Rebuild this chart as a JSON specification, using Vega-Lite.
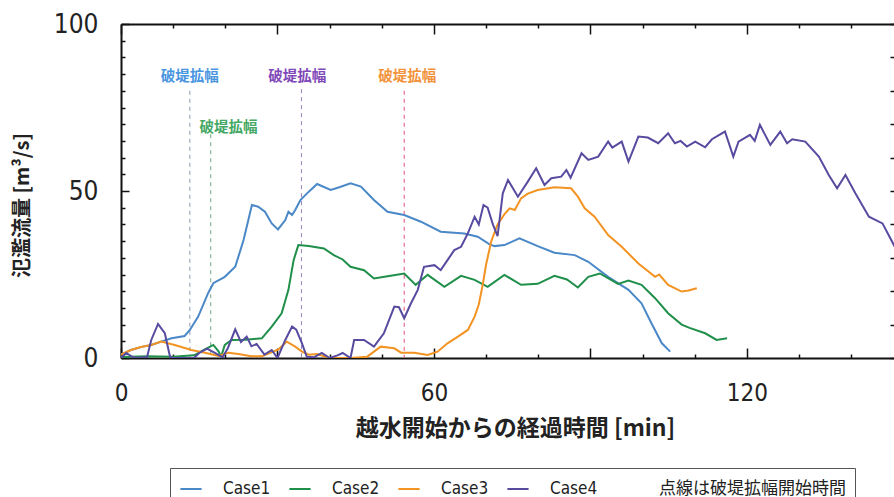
{
  "$schema": "https://vega.github.io/schema/vega-lite/v6.json",
  "width": 774,
  "height": 334,
  "autosize": {"type": "none"},
  "padding": {"left": 121, "top": 24, "right": 0, "bottom": 139},
  "background": "white",
  "config": {"view": {"stroke": null}},
  "datasets": {
    "flow": [
      {"case":"Case1","t":0,"q":1},{"case":"Case1","t":1.9,"q":2.4},{"case":"Case1","t":4.2,"q":3.4},{"case":"Case1","t":5.8,"q":3.9},{"case":"Case1","t":7.7,"q":4.9},{"case":"Case1","t":9.7,"q":5.9},{"case":"Case1","t":12.2,"q":6.6},{"case":"Case1","t":13.2,"q":8.4},{"case":"Case1","t":14.8,"q":12.4},{"case":"Case1","t":16.7,"q":19.4},{"case":"Case1","t":17.7,"q":22.4},{"case":"Case1","t":19.9,"q":24.3},{"case":"Case1","t":21.9,"q":27.3},{"case":"Case1","t":23.5,"q":35.3},{"case":"Case1","t":25.1,"q":45.8},{"case":"Case1","t":26.3,"q":45.3},{"case":"Case1","t":27.6,"q":43.8},{"case":"Case1","t":28.9,"q":40.3},{"case":"Case1","t":30.1,"q":38.5},{"case":"Case1","t":31.5,"q":41.3},{"case":"Case1","t":32.1,"q":43.8},{"case":"Case1","t":32.8,"q":42.8},{"case":"Case1","t":33.4,"q":44.3},{"case":"Case1","t":34.4,"q":47.3},{"case":"Case1","t":36,"q":49.8},{"case":"Case1","t":37.6,"q":52.1},{"case":"Case1","t":40.2,"q":50.3},{"case":"Case1","t":42,"q":51.2},{"case":"Case1","t":44,"q":52.3},{"case":"Case1","t":46,"q":51.3},{"case":"Case1","t":48.5,"q":47.3},{"case":"Case1","t":51.1,"q":43.8},{"case":"Case1","t":54.3,"q":42.8},{"case":"Case1","t":57.5,"q":40.8},{"case":"Case1","t":61.3,"q":37.8},{"case":"Case1","t":65.8,"q":37.3},{"case":"Case1","t":68.4,"q":36.3},{"case":"Case1","t":70.6,"q":34.1},{"case":"Case1","t":71.6,"q":33.5},{"case":"Case1","t":73.5,"q":33.8},{"case":"Case1","t":76.4,"q":35.8},{"case":"Case1","t":79.9,"q":33.5},{"case":"Case1","t":83.1,"q":31.5},{"case":"Case1","t":87,"q":30.8},{"case":"Case1","t":89.6,"q":28.8},{"case":"Case1","t":93.4,"q":24.3},{"case":"Case1","t":97.3,"q":20.4},{"case":"Case1","t":99.8,"q":16.4},{"case":"Case1","t":101.7,"q":10.4},{"case":"Case1","t":103.7,"q":4.4},{"case":"Case1","t":105.3,"q":1.9},
      {"case":"Case2","t":0,"q":0.3},{"case":"Case2","t":5,"q":0.5},{"case":"Case2","t":10,"q":0.4},{"case":"Case2","t":14,"q":0.8},{"case":"Case2","t":16,"q":2.5},{"case":"Case2","t":17.7,"q":3.9},{"case":"Case2","t":18.7,"q":2},{"case":"Case2","t":19.2,"q":0.4},{"case":"Case2","t":19.9,"q":3.9},{"case":"Case2","t":21.2,"q":5.4},{"case":"Case2","t":24,"q":5.5},{"case":"Case2","t":27,"q":5.9},{"case":"Case2","t":28.9,"q":9.4},{"case":"Case2","t":30.8,"q":13.4},{"case":"Case2","t":32.1,"q":20.4},{"case":"Case2","t":33.1,"q":29.3},{"case":"Case2","t":34,"q":33.8},{"case":"Case2","t":36,"q":33.5},{"case":"Case2","t":38.9,"q":32.8},{"case":"Case2","t":40.8,"q":30.8},{"case":"Case2","t":42.5,"q":29.5},{"case":"Case2","t":44,"q":27.3},{"case":"Case2","t":46.6,"q":26.3},{"case":"Case2","t":48.5,"q":23.8},{"case":"Case2","t":51.7,"q":24.6},{"case":"Case2","t":54.3,"q":25.3},{"case":"Case2","t":56.5,"q":21.9},{"case":"Case2","t":58.8,"q":24.9},{"case":"Case2","t":62,"q":21.3},{"case":"Case2","t":65.2,"q":24.6},{"case":"Case2","t":67.8,"q":23.4},{"case":"Case2","t":70.3,"q":21.3},{"case":"Case2","t":73.5,"q":24.9},{"case":"Case2","t":76.7,"q":21.9},{"case":"Case2","t":79.9,"q":22.2},{"case":"Case2","t":83.1,"q":24.6},{"case":"Case2","t":85.5,"q":23.5},{"case":"Case2","t":87.6,"q":21.1},{"case":"Case2","t":89.6,"q":24.3},{"case":"Case2","t":91.8,"q":25.3},{"case":"Case2","t":95.3,"q":22.2},{"case":"Case2","t":97.3,"q":23.2},{"case":"Case2","t":99.8,"q":21.9},{"case":"Case2","t":102.4,"q":17.9},{"case":"Case2","t":104.9,"q":13.4},{"case":"Case2","t":107.5,"q":10},{"case":"Case2","t":109,"q":9},{"case":"Case2","t":112,"q":7.4},{"case":"Case2","t":114.2,"q":5.4},{"case":"Case2","t":116.2,"q":5.9},
      {"case":"Case3","t":0,"q":1},{"case":"Case3","t":1.9,"q":2.4},{"case":"Case3","t":3.8,"q":3.3},{"case":"Case3","t":5.8,"q":3.9},{"case":"Case3","t":7.7,"q":4.9},{"case":"Case3","t":10.3,"q":3.9},{"case":"Case3","t":13.5,"q":2.4},{"case":"Case3","t":16.1,"q":1.6},{"case":"Case3","t":18.7,"q":0.6},{"case":"Case3","t":20.6,"q":1.6},{"case":"Case3","t":22.5,"q":1.2},{"case":"Case3","t":25,"q":0.5},{"case":"Case3","t":27,"q":0.5},{"case":"Case3","t":30.2,"q":2.6},{"case":"Case3","t":31.8,"q":4.9},{"case":"Case3","t":33.4,"q":3.4},{"case":"Case3","t":34.7,"q":1.9},{"case":"Case3","t":36,"q":1},{"case":"Case3","t":37.6,"q":1.2},{"case":"Case3","t":40,"q":0},{"case":"Case3","t":44,"q":0},{"case":"Case3","t":47.2,"q":0.4},{"case":"Case3","t":49.8,"q":3.4},{"case":"Case3","t":52.4,"q":2.9},{"case":"Case3","t":53.7,"q":1.6},{"case":"Case3","t":56.2,"q":1.6},{"case":"Case3","t":58.8,"q":0.9},{"case":"Case3","t":60.7,"q":1.9},{"case":"Case3","t":62.6,"q":4.4},{"case":"Case3","t":64.6,"q":6.4},{"case":"Case3","t":66.5,"q":8.4},{"case":"Case3","t":67.8,"q":12.4},{"case":"Case3","t":68.6,"q":16},{"case":"Case3","t":69.4,"q":22.3},{"case":"Case3","t":70,"q":28},{"case":"Case3","t":71,"q":35},{"case":"Case3","t":72.2,"q":40},{"case":"Case3","t":73.5,"q":43},{"case":"Case3","t":74.5,"q":44.8},{"case":"Case3","t":75.5,"q":44.3},{"case":"Case3","t":76.7,"q":47.8},{"case":"Case3","t":78,"q":49.2},{"case":"Case3","t":79.9,"q":50.3},{"case":"Case3","t":83.1,"q":51.1},{"case":"Case3","t":86.3,"q":50.8},{"case":"Case3","t":87.6,"q":48.3},{"case":"Case3","t":88.9,"q":44.8},{"case":"Case3","t":90.8,"q":42.3},{"case":"Case3","t":93.4,"q":36.8},{"case":"Case3","t":96,"q":33.3},{"case":"Case3","t":99.2,"q":28.3},{"case":"Case3","t":102.4,"q":24.3},{"case":"Case3","t":103.2,"q":25},{"case":"Case3","t":104.9,"q":21.9},{"case":"Case3","t":107.5,"q":19.9},{"case":"Case3","t":108.8,"q":20.2},{"case":"Case3","t":110.4,"q":20.9},
      {"case":"Case4","t":0,"q":0},{"case":"Case4","t":1,"q":1.5},{"case":"Case4","t":2,"q":0.5},{"case":"Case4","t":3,"q":0},{"case":"Case4","t":5,"q":0.3},{"case":"Case4","t":5.8,"q":5.4},{"case":"Case4","t":7.1,"q":10.2},{"case":"Case4","t":8.4,"q":7.4},{"case":"Case4","t":9.4,"q":0.4},{"case":"Case4","t":10,"q":0},{"case":"Case4","t":14,"q":0},{"case":"Case4","t":15,"q":1.5},{"case":"Case4","t":16.5,"q":2.8},{"case":"Case4","t":18,"q":1.5},{"case":"Case4","t":19.5,"q":0.2},{"case":"Case4","t":20.5,"q":3},{"case":"Case4","t":21.9,"q":8.6},{"case":"Case4","t":23,"q":4.8},{"case":"Case4","t":24.1,"q":6.4},{"case":"Case4","t":25,"q":3.5},{"case":"Case4","t":26,"q":4.2},{"case":"Case4","t":27.5,"q":1},{"case":"Case4","t":28.9,"q":2.4},{"case":"Case4","t":30,"q":0},{"case":"Case4","t":31.5,"q":5.4},{"case":"Case4","t":32.8,"q":9.4},{"case":"Case4","t":33.6,"q":8.5},{"case":"Case4","t":34.7,"q":4.4},{"case":"Case4","t":35.6,"q":0.4},{"case":"Case4","t":37,"q":0.2},{"case":"Case4","t":38.5,"q":1.5},{"case":"Case4","t":40,"q":0},{"case":"Case4","t":41.5,"q":0.8},{"case":"Case4","t":42.5,"q":1.5},{"case":"Case4","t":44,"q":0},{"case":"Case4","t":44.7,"q":5.4},{"case":"Case4","t":46.6,"q":5.4},{"case":"Case4","t":48.5,"q":3.4},{"case":"Case4","t":50.4,"q":7.4},{"case":"Case4","t":52.4,"q":15.4},{"case":"Case4","t":53.3,"q":15.2},{"case":"Case4","t":54.3,"q":11.9},{"case":"Case4","t":55.6,"q":16.4},{"case":"Case4","t":56.9,"q":20.4},{"case":"Case4","t":58.1,"q":27.3},{"case":"Case4","t":60.1,"q":27.8},{"case":"Case4","t":61.3,"q":26.3},{"case":"Case4","t":62.6,"q":29.3},{"case":"Case4","t":63.9,"q":32.3},{"case":"Case4","t":65.2,"q":33.3},{"case":"Case4","t":66.5,"q":37.3},{"case":"Case4","t":67.8,"q":42.3},{"case":"Case4","t":68.6,"q":40},{"case":"Case4","t":69.5,"q":45.8},{"case":"Case4","t":70.3,"q":45},{"case":"Case4","t":71.3,"q":40},{"case":"Case4","t":72.2,"q":36.5},{"case":"Case4","t":73.2,"q":49.3},{"case":"Case4","t":74.2,"q":53.3},{"case":"Case4","t":76.1,"q":48.3},{"case":"Case4","t":78,"q":52.8},{"case":"Case4","t":79.6,"q":56.8},{"case":"Case4","t":81.2,"q":51.8},{"case":"Case4","t":82.5,"q":53.8},{"case":"Case4","t":84.4,"q":54.3},{"case":"Case4","t":85.4,"q":56.3},{"case":"Case4","t":86.2,"q":54},{"case":"Case4","t":88.3,"q":61.3},{"case":"Case4","t":89.6,"q":59.3},{"case":"Case4","t":91.5,"q":60.3},{"case":"Case4","t":93.4,"q":64.8},{"case":"Case4","t":94.2,"q":63},{"case":"Case4","t":96,"q":64.8},{"case":"Case4","t":97.3,"q":58.8},{"case":"Case4","t":99.2,"q":66.3},{"case":"Case4","t":101,"q":66},{"case":"Case4","t":103,"q":64.3},{"case":"Case4","t":104.9,"q":67.3},{"case":"Case4","t":106.2,"q":64.3},{"case":"Case4","t":107.3,"q":65},{"case":"Case4","t":108.5,"q":63.3},{"case":"Case4","t":110.1,"q":64.8},{"case":"Case4","t":112,"q":63.1},{"case":"Case4","t":113.3,"q":65.5},{"case":"Case4","t":115.8,"q":67.8},{"case":"Case4","t":117.4,"q":60.3},{"case":"Case4","t":118.4,"q":64.8},{"case":"Case4","t":120.6,"q":66.8},{"case":"Case4","t":121.5,"q":65},{"case":"Case4","t":122.5,"q":69.8},{"case":"Case4","t":124.5,"q":63.8},{"case":"Case4","t":126.4,"q":67.8},{"case":"Case4","t":127.7,"q":64.3},{"case":"Case4","t":128.7,"q":65.5},{"case":"Case4","t":131.2,"q":64.8},{"case":"Case4","t":133.8,"q":60.3},{"case":"Case4","t":135.7,"q":54.8},{"case":"Case4","t":137.3,"q":50.8},{"case":"Case4","t":138.9,"q":54.8},{"case":"Case4","t":140.8,"q":49.3},{"case":"Case4","t":143.4,"q":42.3},{"case":"Case4","t":146,"q":40.3},{"case":"Case4","t":148.7,"q":32.3}
    ],
    "notes": [
      {"case":"Case1","t":13.2,"top":80,"tl":13.2,"yl":84,"label":"破堤拡幅"},
      {"case":"Case2","t":17.2,"top":67,"tl":20.6,"yl":69,"label":"破堤拡幅"},
      {"case":"Case3","t":54.3,"top":80,"tl":54.9,"yl":84,"label":"破堤拡幅"},
      {"case":"Case4","t":34.6,"top":80.5,"tl":33.8,"yl":84,"label":"破堤拡幅"}
    ]
  },
  "layer": [
    {
      "data": {"name": "notes"},
      "mark": {"type": "rule", "strokeDash": [4, 4], "strokeWidth": 1},
      "encoding": {
        "x": {"field": "t", "type": "quantitative", "scale": {"domain": [0, 148.4], "nice": false, "zero": false}, "axis": null},
        "y": {"field": "top", "type": "quantitative", "scale": {"domain": [0, 100], "nice": false}, "axis": null},
        "y2": {"datum": 0},
        "color": {"field": "case", "type": "nominal", "scale": {"domain": ["Case1","Case2","Case3","Case4"], "range": ["#8a97b2","#6aaa80","#e84f78","#9a82b8"]}, "legend": null}
      }
    },
    {
      "data": {"name": "notes"},
      "mark": {"type": "text", "font": "Noto Sans CJK JP", "fontSize": 14.5, "fontWeight": "bold", "baseline": "middle", "align": "center"},
      "encoding": {
        "x": {"field": "tl", "type": "quantitative", "scale": {"domain": [0, 148.4], "nice": false, "zero": false}, "axis": null},
        "y": {"field": "yl", "type": "quantitative", "scale": {"domain": [0, 100], "nice": false}, "axis": null},
        "text": {"field": "label"},
        "color": {"field": "case", "type": "nominal", "scale": {"domain": ["Case1","Case2","Case3","Case4"], "range": ["#4a95e0","#45a865","#f2923a","#8048b8"]}, "legend": null}
      }
    },
    {
      "data": {"name": "flow"},
      "mark": {"type": "line", "strokeWidth": 2, "clip": true},
      "encoding": {
        "x": {"field": "t", "type": "quantitative", "scale": {"domain": [0, 148.4], "nice": false, "zero": false},
          "axis": {"orient": "bottom", "values": [0,10,20,30,40,50,60,70,80,90,100,110,120,130,140],
            "labelExpr": "datum.value % 60 === 0 ? datum.label : ''",
            "tickSize": {"condition": {"test": "datum.value % 30 === 0", "value": -10}, "value": -4},
            "tickColor": "#111", "tickWidth": 1.5, "domainColor": "#111", "domainWidth": 2, "grid": false,
            "labelFont": "Liberation Sans Narrow, DejaVu Sans Condensed, Liberation Sans", "labelFontSize": 24, "labelColor": "#222",
            "labelPadding": 33, "labelFlush": false, "labelOverlap": false, "labelBaseline": "top",
            "title": "越水開始からの経過時間 [min]", "titleFont": "Noto Sans CJK JP", "titleFontSize": 23, "titleFontWeight": "bold", "titleColor": "#222",
            "titleX": 394, "titleY": 70, "titleAlign": "center", "titleBaseline": "middle"}},
        "y": {"field": "q", "type": "quantitative", "scale": {"domain": [0, 100], "nice": false},
          "axis": {"orient": "left", "values": [0,5,10,15,20,25,30,35,40,45,50,55,60,65,70,75,80,85,90,95,100],
            "labelExpr": "datum.value % 50 === 0 ? datum.label : ''",
            "tickSize": {"condition": {"test": "datum.value % 50 === 0", "value": -8}, "value": -4},
            "tickColor": "#111", "tickWidth": 1.5, "domainColor": "#111", "domainWidth": 2, "grid": false,
            "labelFont": "Liberation Sans Narrow, DejaVu Sans Condensed, Liberation Sans", "labelFontSize": 26, "labelColor": "#222",
            "labelPadding": 31, "labelFlush": false, "labelOverlap": false, "labelBaseline": "middle",
            "title": "氾濫流量 [m³/s]", "titleFont": "Noto Sans CJK JP", "titleFontSize": 20, "titleFontWeight": "bold", "titleColor": "#222",
            "titleAngle": -90, "titleX": -99, "titleY": 181, "titleAlign": "center", "titleBaseline": "middle"}},
        "color": {"field": "case", "type": "nominal",
          "scale": {"domain": ["Case1","Case2","Case3","Case4","点線は破堤拡幅開始時間"], "range": ["#4a88c7","#1f8f4a","#f39322","#574ba0","rgba(0,0,0,0)"]},
          "legend": {"orient": "none", "legendX": 49, "legendY": 444, "direction": "horizontal", "title": null,
            "symbolType": "stroke", "symbolStrokeWidth": 2, "symbolSize": 450,
            "labelFont": "Liberation Sans Narrow, DejaVu Sans Condensed, Noto Sans CJK JP", "labelFontSize": 17, "labelColor": "#222",
            "labelOffset": 20, "columnPadding": 14, "padding": 9, "strokeColor": "#555", "fillColor": "white", "cornerRadius": 0,
            "labelLimit": 400}}
      }
    },
    {
      "data": {"name": "flow"},
      "mark": {"type": "point", "opacity": 0},
      "encoding": {
        "x": {"field": "t", "type": "quantitative", "scale": {"domain": [0, 148.4], "nice": false, "zero": false},
          "axis": {"orient": "top", "values": [0,10,20,30,40,50,60,70,80,90,100,110,120,130,140], "labels": false, "title": null,
            "tickSize": {"condition": {"test": "datum.value % 30 === 0", "value": -10}, "value": -4},
            "tickColor": "#111", "tickWidth": 1.5, "domainColor": "#111", "domainWidth": 2, "grid": false}},
        "y": {"field": "q", "type": "quantitative", "scale": {"domain": [0, 100], "nice": false},
          "axis": {"orient": "right", "values": [0,10,20,30,40,50,60,70,80,90,100], "labels": false, "title": null,
            "tickSize": -5, "tickColor": "#111", "tickWidth": 1.5, "domainColor": "#111", "domainWidth": 2, "grid": false}}
      }
    }
  ],
  "resolve": {"axis": {"x": "independent", "y": "independent"}, "scale": {"color": "independent"}}
}
